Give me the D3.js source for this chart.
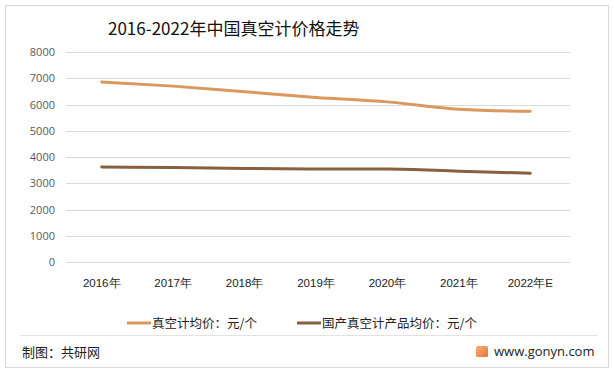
<!DOCTYPE html>
<html>
<head>
<meta charset="utf-8">
<script src="https://cdn.jsdelivr.net/npm/d3@7"></script>
<style>
  html, body { margin: 0; padding: 0; background: #fff; }
  svg { display: block; font-family: "Noto Sans CJK SC", "Noto Sans", sans-serif; }
</style>
</head>
<body>
<svg id="chart" width="614" height="373"></svg>
<script>
const years = ["2016年", "2017年", "2018年", "2019年", "2020年", "2021年", "2022年E"];
const avgPrice = [6860, 6700, 6490, 6270, 6100, 5820, 5740];
const domesticPrice = [3620, 3600, 3565, 3540, 3540, 3460, 3380];
const yTicks = [0, 1000, 2000, 3000, 4000, 5000, 6000, 7000, 8000];
const seriesNames = ["真空计均价：元/个", "国产真空计产品均价：元/个"];
const colors = ["#DA975E", "#87603F"];

const svg = d3.select("#chart");
const W = 614, H = 373;

// outer frame
svg.append("rect").attr("x", 5.5).attr("y", 5.5).attr("width", W - 11).attr("height", H - 11)
  .attr("fill", "#fff").attr("stroke", "#d9d9d9");

svg.append("text").attr("x", 108).attr("y", 35)
  .attr("font-size", 17).attr("fill", "#111")
  .text("2016-2022年中国真空计价格走势");

const x = d3.scaleBand().domain(years).range([66, 566]);
const y = d3.scaleLinear().domain([0, 8000]).range([262, 52]);

const grid = svg.append("g");
yTicks.forEach(t => {
  grid.append("line").attr("x1", 66).attr("x2", 570)
    .attr("y1", Math.round(y(t)) + 0.5).attr("y2", Math.round(y(t)) + 0.5)
    .attr("stroke", "#d9d9d9");
});

svg.append("g").attr("transform", "translate(66,0)")
  .call(d3.axisLeft(y).tickValues(yTicks).tickSize(0).tickPadding(11).tickFormat(d3.format("d")))
  .call(g => g.select(".domain").remove())
  .call(g => g.selectAll("text").attr("font-size", 11).attr("fill", "#595959")
    .attr("font-family", "'Open Sans', 'Noto Sans', sans-serif"));

svg.append("g").attr("transform", "translate(0,262)")
  .call(d3.axisBottom(x).tickSize(0).tickPadding(17))
  .call(g => g.select(".domain").remove())
  .call(g => g.selectAll("text").attr("font-size", 11.5).attr("fill", "#222"));

const line = d3.line()
  .x((d, i) => x(years[i]) + x.bandwidth() / 2)
  .y(d => y(d))
  .curve(d3.curveMonotoneX);

[avgPrice, domesticPrice].forEach((s, k) => {
  svg.append("path").datum(s).attr("d", line)
    .attr("fill", "none").attr("stroke", colors[k]).attr("stroke-width", 3)
    .attr("stroke-linecap", "round");
});

// legend
const legendX = [127, 297];
seriesNames.forEach((n, k) => {
  const g = svg.append("g").attr("transform", `translate(${legendX[k]},323)`);
  g.append("line").attr("x1", 0).attr("x2", 24).attr("y1", 0).attr("y2", 0)
    .attr("stroke", colors[k]).attr("stroke-width", 3);
  g.append("text").attr("x", 25).attr("y", 4.5).attr("font-size", 12.5).attr("fill", "#222").text(n);
});

// footer
svg.append("line").attr("x1", 20).attr("x2", 598).attr("y1", 335.5).attr("y2", 335.5)
  .attr("stroke", "#e3e3e3");
svg.append("text").attr("x", 22).attr("y", 357).attr("font-size", 13).attr("fill", "#222")
  .text("制图：共研网");

const grad = svg.append("defs").append("linearGradient").attr("id", "logo")
  .attr("x1", 0).attr("y1", 0).attr("x2", 1).attr("y2", 1);
grad.append("stop").attr("offset", 0).attr("stop-color", "#f6b07a");
grad.append("stop").attr("offset", 1).attr("stop-color", "#e8743c");
svg.append("rect").attr("x", 476).attr("y", 346).attr("width", 12).attr("height", 11)
  .attr("rx", 1.5).attr("fill", "url(#logo)");
svg.append("text").attr("x", 494).attr("y", 356).attr("font-size", 13).attr("fill", "#222")
  .attr("font-family", "'Open Sans', 'Noto Sans', sans-serif")
  .text("www.gonyn.com");
</script>
</body>
</html>
